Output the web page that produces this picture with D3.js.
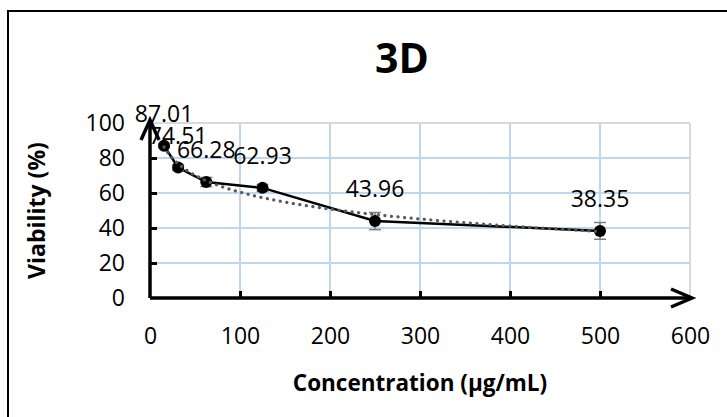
<!DOCTYPE html>
<html>
<head>
<meta charset="utf-8">
<script src="https://cdn.jsdelivr.net/npm/d3@7"></script>
<style>
  body { margin: 0; background: #fff; }
  svg { display: block; font-family: "Open Sans", sans-serif; }
</style>
</head>
<body>
<script>
const width = 727;
const height = 417;
const leftPadding = 150;
const rightPadding = 37;
const topPadding = 123;
const botPadding = 119;

// data
const concentrations = [15.625, 31.25, 62.5, 125, 250, 500];
const viability = [87.01, 74.51, 66.28, 62.93, 43.96, 38.35];
const errors = [1.0, 1.5, 2.6, 2.0, 4.9, 4.8];
const xTicks = [0, 100, 200, 300, 400, 500, 600];
const yTicks = [0, 20, 40, 60, 80, 100];

const svg = d3.select("body").append("svg")
    .attr("width", width).attr("height", height);

// outer chart border
svg.append("rect")
    .attr("x", 8).attr("y", 11)
    .attr("width", 740).attr("height", 420)
    .attr("fill", "none").attr("stroke", "#000").attr("stroke-width", 2);

const xScale = d3.scaleLinear().domain([0, 600]).range([leftPadding, width - rightPadding]);
const yScale = d3.scaleLinear().domain([0, 100]).range([height - botPadding, topPadding]);

// gridlines
svg.append("g").selectAll("line").data(xTicks.slice(1)).enter().append("line")
    .attr("x1", d => xScale(d)).attr("x2", d => xScale(d))
    .attr("y1", yScale(0)).attr("y2", yScale(100))
    .attr("stroke", d => d === 600 ? "#d9d9d9" : "#bdd7ee").attr("stroke-width", 2);
svg.append("g").selectAll("line").data(yTicks.slice(1)).enter().append("line")
    .attr("x1", xScale(0)).attr("x2", xScale(600))
    .attr("y1", d => yScale(d)).attr("y2", d => yScale(d))
    .attr("stroke", d => d === 100 ? "#d9d9d9" : "#bdd7ee").attr("stroke-width", 2);

// axes (thick, inside ticks)
const xAxis = d3.axisBottom(xScale).tickValues(xTicks).tickSize(-7).tickPadding(30);
const yAxis = d3.axisLeft(yScale).tickValues(yTicks).tickSize(-7).tickPadding(25);

const gx = svg.append("g").attr("transform", "translate(0," + yScale(0) + ")").call(xAxis);
const gy = svg.append("g").attr("transform", "translate(" + xScale(0) + ",0)").call(yAxis);
[gx, gy].forEach(g => {
    g.select(".domain").remove();
    g.selectAll(".tick line").attr("stroke", "#000").attr("stroke-width", 3);
    g.selectAll(".tick text").attr("fill", "#000").style("font-size", "23px").style("font-family", "Open Sans");
});
gx.selectAll(".tick text").attr("y", 30).attr("dy", "0.71em");
gy.selectAll(".tick text").attr("x", -25);
gx.selectAll(".tick line").filter(d => d === 0 || d === 600).remove();
gy.selectAll(".tick line").filter(d => d === 0 || d === 100).remove();

const axisG = svg.append("g").attr("stroke", "#000").attr("stroke-width", 3.5)
    .attr("fill", "none").attr("stroke-linecap", "butt");
axisG.append("line")
    .attr("x1", xScale(0)).attr("x2", xScale(600) + 2)
    .attr("y1", yScale(0)).attr("y2", yScale(0));
axisG.append("line")
    .attr("x1", xScale(0)).attr("x2", xScale(0))
    .attr("y1", yScale(0)).attr("y2", yScale(100) - 3);
// arrowheads
axisG.append("path")
    .attr("d", d3.line()([[xScale(600) - 19, yScale(0) - 9], [xScale(600) + 2, yScale(0)], [xScale(600) - 19, yScale(0) + 9]]));
axisG.append("path")
    .attr("d", d3.line()([[xScale(0) - 9, yScale(100) + 17], [xScale(0), yScale(100) - 3], [xScale(0) + 9, yScale(100) + 17]]));

const points = concentrations.map((c, i) => ({ x: c, y: viability[i], e: errors[i] }));

// series line
svg.append("path").datum(points)
    .attr("fill", "none").attr("stroke", "#000").attr("stroke-width", 2.5)
    .attr("d", d3.line().x(d => xScale(d.x)).y(d => yScale(d.y)));

// error bars
const eb = svg.append("g").attr("stroke", "#7f7f7f").attr("stroke-width", 1.5);
eb.selectAll(".v").data(points).enter().append("line")
    .attr("x1", d => xScale(d.x)).attr("x2", d => xScale(d.x))
    .attr("y1", d => yScale(d.y - d.e)).attr("y2", d => yScale(d.y + d.e));
eb.selectAll(".t").data(points).enter().append("line")
    .attr("x1", d => xScale(d.x) - 6).attr("x2", d => xScale(d.x) + 6)
    .attr("y1", d => yScale(d.y + d.e)).attr("y2", d => yScale(d.y + d.e));
eb.selectAll(".b").data(points).enter().append("line")
    .attr("x1", d => xScale(d.x) - 6).attr("x2", d => xScale(d.x) + 6)
    .attr("y1", d => yScale(d.y - d.e)).attr("y2", d => yScale(d.y - d.e));

// markers
svg.append("g").selectAll("circle").data(points).enter().append("circle")
    .attr("cx", d => xScale(d.x)).attr("cy", d => yScale(d.y)).attr("r", 6)
    .attr("fill", "#000");

// logarithmic trendline (least squares on ln x)
const lx = concentrations.map(Math.log);
const mx = d3.mean(lx), my = d3.mean(viability);
const slope = d3.sum(lx, (v, i) => (v - mx) * (viability[i] - my)) / d3.sum(lx, v => (v - mx) * (v - mx));
const icept = my - slope * mx;
const trendX = d3.range(0, 101).map(k => concentrations[0] * Math.pow(concentrations[concentrations.length - 1] / concentrations[0], k / 100));
svg.append("path").datum(trendX)
    .attr("fill", "none").attr("stroke", "#595959").attr("stroke-width", 3.2)
    .attr("stroke-dasharray", "0.1 6.5").attr("stroke-linecap", "round")
    .attr("d", d3.line().x(d => xScale(d)).y(d => yScale(slope * Math.log(d) + icept)));

// data labels
svg.append("g").selectAll("text").data(points).enter().append("text")
    .attr("x", d => xScale(d.x)).attr("y", d => yScale(d.y) - 24)
    .attr("text-anchor", "middle").style("font-size", "23px").attr("fill", "#000")
    .text(d => d.y.toFixed(2));

// titles
svg.append("text").attr("x", 402).attr("y", 73).attr("text-anchor", "middle")
    .style("font-size", "41px").style("font-weight", "bold").text("3D");
svg.append("text").attr("x", (xScale(0) + xScale(600)) / 2).attr("y", 391).attr("text-anchor", "middle")
    .style("font-size", "22.5px").style("font-weight", "bold").text("Concentration (μg/mL)");
svg.append("text")
    .attr("transform", "translate(45," + ((yScale(0) + yScale(100)) / 2) + ") rotate(-90)")
    .attr("text-anchor", "middle")
    .style("font-size", "23px").style("font-weight", "bold").text("Viability (%)");
</script>
</body>
</html>
